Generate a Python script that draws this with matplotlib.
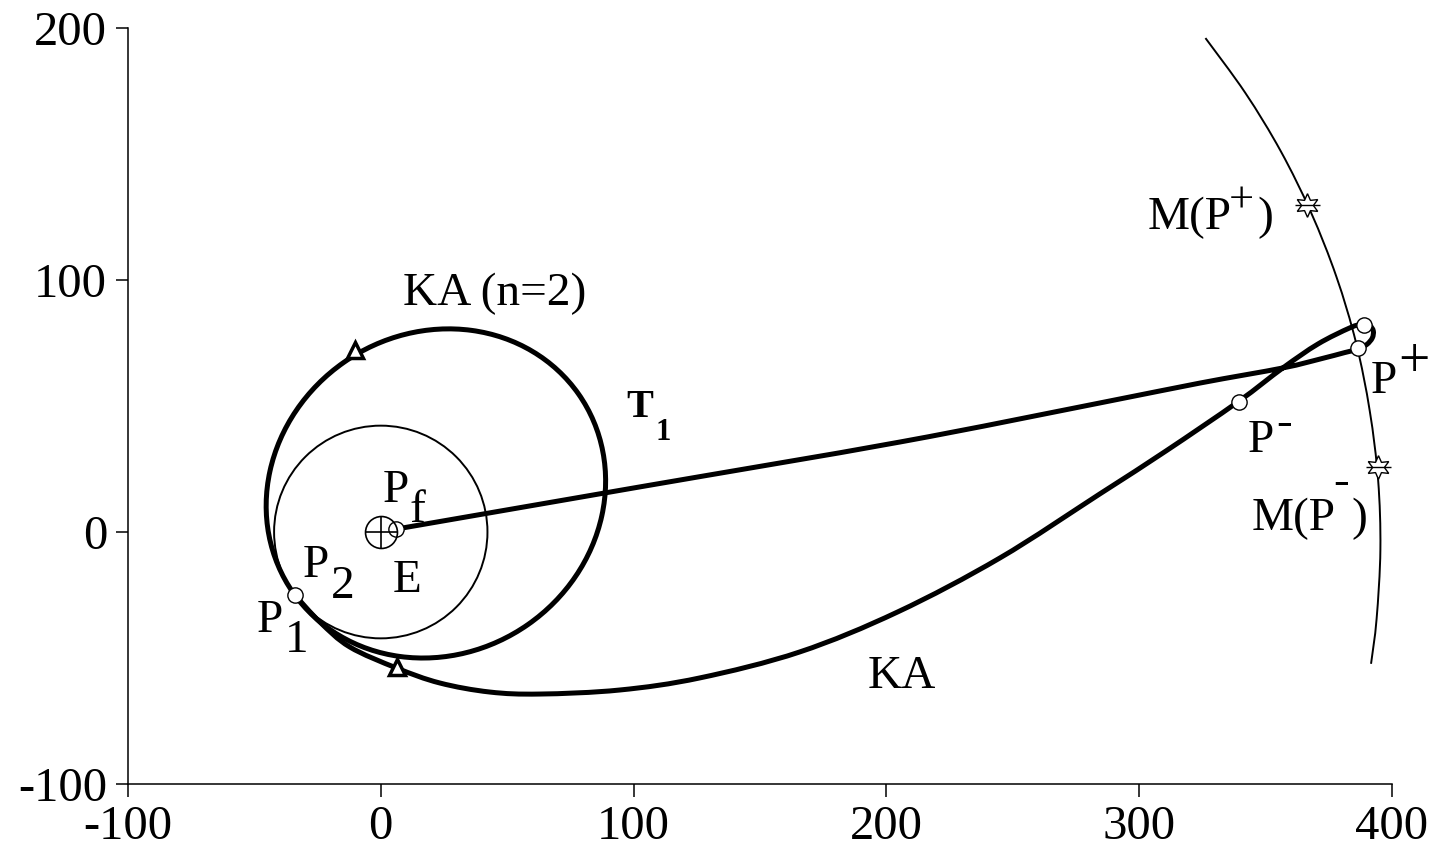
import numpy as np
import matplotlib
matplotlib.use("Agg")
import matplotlib.pyplot as plt
from matplotlib.patches import Ellipse, Circle, PathPatch
from matplotlib.path import Path

plt.rcParams['font.family'] = ['Liberation Serif', 'DejaVu Serif']
plt.rcParams['axes.unicode_minus'] = False

# trajectory KA: P1 -> lunar flyby loop -> back to Pf (units of 1000 km)
ka_x = [-34.0, -24.1, -12.3, 6.3, 23.3, 43.1, 62.9, 94.5, 126.2, 165.7, 204.5, 244.9,
        284.4, 310.5, 339.0, 356.8, 370.7, 383.3, 388.4, 391.2, 392.6, 392.2, 390.0,
        386.5, 381.3, 371.4, 356.8, 324.0, 284.4, 205.3, 102.5, 6.3]
ka_y = [-25.0, -35.7, -45.6, -54.0, -59.9, -63.5, -64.3, -62.7, -57.9, -47.6, -31.7, -10.3,
        15.1, 32.1, 51.6, 65.1, 74.6, 81.0, 82.5, 81.9, 79.8, 77.0, 74.4,
        72.6, 71.2, 68.6, 65.1, 59.1, 51.2, 35.7, 17.9, 1.2]

# lunar orbit arc
moon_x = [326.2, 342.0, 356.0, 368.0, 378.0, 385.8, 391.2, 394.5, 395.4, 393.9, 391.7]
moon_y = [196.0, 174.2, 151.1, 126.7, 101.3, 75.0, 48.0, 20.7, -6.9, -34.5, -52.3]

# KA (n=2) orbit: ellipse centre, axes, tilt
orb_center = (21.8, 15.3)
orb_width, orb_height, orb_angle = 137.7, 127.0, 35.0
geo_radius = 42.2

# marked points
circ_x = [-34.0, 6.2, 339.4, 388.8, 386.5]
circ_y = [-25.0, 1.1, 51.6, 82.1, 73.0]
star_x = [366.2, 394.4]
star_y = [129.8, 25.8]
tri_x = [-10.3, 6.3]
tri_y = [72.2, -53.6]


def smooth_path(xs, ys):
    # Catmull-Rom through the points, drawn as cubic Bezier segments
    pts = np.column_stack([xs, ys])
    verts = [pts[0]]
    codes = [Path.MOVETO]
    n = len(pts)
    for i in range(n - 1):
        p0 = pts[i - 1] if i > 0 else pts[i]
        p1, p2 = pts[i], pts[i + 1]
        p3 = pts[i + 2] if i + 2 < n else pts[i + 1]
        verts += [p1 + (p2 - p0) / 6, p2 - (p3 - p1) / 6, p2]
        codes += [Path.CURVE4] * 3
    return Path(verts, codes)


fig = plt.figure(figsize=(14.33, 8.56), dpi=100)
ax = fig.add_axes([0.0893, 0.0841, 0.9714 - 0.0893, 0.9673 - 0.0841])

ax.add_patch(Circle((0, 0), geo_radius, fill=False, lw=1.4, ec='black'))
ax.add_patch(Ellipse(orb_center, orb_width, orb_height, angle=orb_angle,
                     fill=False, lw=3.6, ec='black'))
ax.add_patch(PathPatch(smooth_path(moon_x, moon_y), fill=False, lw=1.4, ec='black'))
ax.add_patch(PathPatch(smooth_path(ka_x, ka_y), fill=False, lw=3.6, ec='black',
                       joinstyle='round', capstyle='round'))

ax.plot(circ_x, circ_y, 'o', ms=11, mfc='white', mec='black', mew=1.0, ls='none')
ax.plot([0], [0], 'o', ms=23, mfc='none', mec='black', mew=1.2)
ax.plot([0], [0], '+', ms=23, mec='black', mew=1.2)
ax.plot(star_x, star_y, marker=(6, 1, 0), ms=17, mfc='white', mec='black', mew=1.0, ls='none')
ax.plot(star_x, star_y, '_', ms=18, mec='black', mew=1.0, ls='none')
ax.plot(tri_x, tri_y, '^', ms=12, mfc='white', mec='black', mew=2.5, ls='none')

fs = 34
def label(x, y, s, **kw):
    kw.setdefault('fontsize', fs)
    kw.setdefault('va', 'baseline')
    ax.text(x, y, s, ha='left', **kw)

label(8.7, 90.1, 'KA (n=2)')
label(97.2, 45.8, 'T', fontsize=29, fontweight='bold')
label(108.6, 36.5, '1', fontsize=22, fontweight='bold')
label(0.9, 12.0, 'P')
label(11.5, 4.1, 'f')
label(-30.7, -17.7, 'P')
label(-19.7, -26.3, '2')
label(4.9, -23.7, 'E')
label(-49.2, -39.6, 'P')
label(-38.0, -47.5, '1')
label(192.6, -61.9, 'KA')
label(303.3, 120.2, 'M(P')
label(335.5, 131.0, '+', va='center', fontsize=32)
label(346.9, 120.2, ')')
label(391.4, 55.0, 'P')
label(402.3, 67.1, '+', va='center', fontsize=40)
label(343.1, 31.9, 'P')
label(354.3, 42.9, '-', va='center')
label(344.4, 0.8, 'M(P')
label(376.6, 19.4, '-', va='center')
label(384.0, 0.8, ')')

ax.set_xlim(-100, 400)
ax.set_ylim(-100, 200)
ax.set_xticks([-100, 0, 100, 200, 300, 400])
ax.set_yticks([-100, 0, 100, 200])
for side in ['top', 'right']:
    ax.spines[side].set_visible(False)
for side in ['left', 'bottom']:
    ax.spines[side].set_linewidth(1.1)
ax.tick_params(direction='out', length=9, width=1.1, labelsize=35, pad=6)

fig.savefig('out.png', dpi=100)
